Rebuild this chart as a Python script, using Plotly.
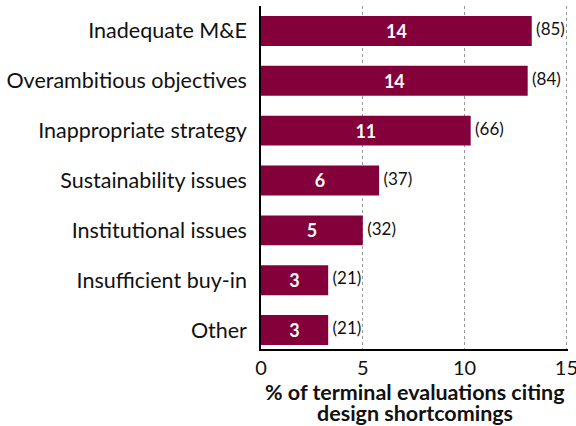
import plotly.graph_objects as go

categories = ["Inadequate M&E", "Overambitious objectives", "Inappropriate strategy",
              "Sustainability issues", "Institutional issues", "Insufficient buy-in", "Other"]
pct = [13.3, 13.1, 10.3, 5.8, 5.0, 3.3, 3.3]
inside_labels = ["14", "14", "11", "6", "5", "3", "3"]
counts = ["(85)", "(84)", "(66)", "(37)", "(32)", "(21)", "(21)"]
x_title = ["% of terminal evaluations citing", "design shortcomings"]

bar_color = "#84003A"
font = "Lato, Noto Sans, sans-serif"

fig = go.Figure()
fig.add_trace(go.Bar(
    x=pct, y=categories, orientation="h", width=0.6,
    marker=dict(color=bar_color, line=dict(width=0)),
    text=inside_labels, textposition="inside", insidetextanchor="middle",
    textfont=dict(color="white", size=18, family=font, weight="bold"),
    hoverinfo="skip", cliponaxis=False))
fig.add_trace(go.Scatter(
    x=pct, y=categories, mode="text", text=[" " + c for c in counts],
    textposition="middle right",
    textfont=dict(color="#111111", size=17, family=font),
    hoverinfo="skip", cliponaxis=False))

# two-line axis title, tighter line spacing than Plotly's default
for i, line in enumerate(x_title):
    fig.add_annotation(text=line, xref="paper", yref="paper", x=0.5, y=-0.124 - 0.064 * i,
                       xanchor="center", yanchor="middle", showarrow=False,
                       font=dict(size=21.5, weight="bold", family=font, color="#111111"))

fig.update_layout(
    width=576, height=426, showlegend=False,
    margin=dict(l=261, r=8, t=6, b=77),
    plot_bgcolor="white", paper_bgcolor="white",
    font=dict(family=font, color="#111111", size=18),
    xaxis=dict(range=[0, 15.08], tickvals=[0, 5, 10, 15], showgrid=True,
               gridcolor="#999999", griddash="dot", gridwidth=1,
               showline=True, linecolor="black", linewidth=1.5,
               zeroline=False, ticks="", tickfont=dict(size=20), automargin=False,
               ticklabeloverflow="allow", ticklabelstandoff=0),
    yaxis=dict(categoryorder="array", categoryarray=categories, automargin=False,
               range=[6.38, -0.5], showline=True, linecolor="black", linewidth=1.5,
               showgrid=False, ticks="", ticklabelstandoff=8, tickfont=dict(size=21.5)),
)

fig.write_html("out.html", config={"displayModeBar": False},
               post_script="document.body.style.margin='0';")
